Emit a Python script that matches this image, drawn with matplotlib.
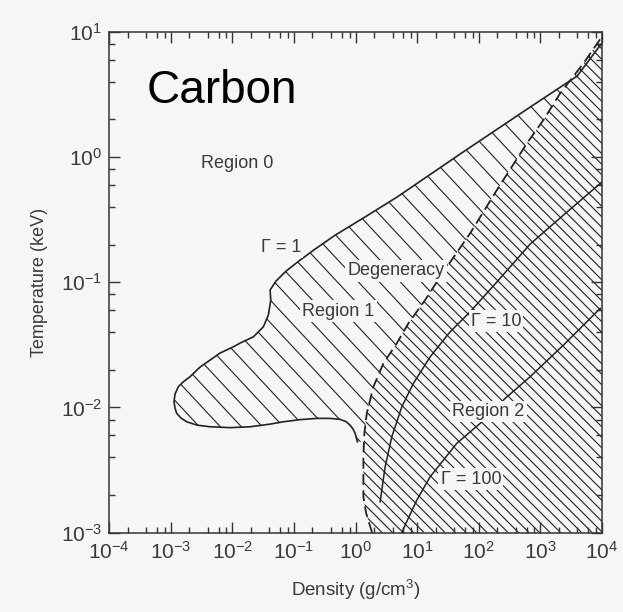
import numpy as np
import matplotlib
matplotlib.use("Agg")
import matplotlib.pyplot as plt
from matplotlib.patches import Polygon
from matplotlib.collections import LineCollection
from matplotlib.ticker import LogLocator, NullFormatter

plt.rcParams["font.family"] = ["Liberation Sans", "DejaVu Sans"]
plt.rcParams["mathtext.fontset"] = "custom"
plt.rcParams["mathtext.rm"] = "Liberation Sans"
plt.rcParams["mathtext.it"] = "Liberation Sans:italic"
plt.rcParams["mathtext.bf"] = "Liberation Sans:bold"

# ---- boundary curves, as log10 of density (g/cm^3) and temperature (keV) ----
# Gamma = 1 line: from the high-density corner down and around the
# low-density lobe of Region 1
gamma1_logrho = [3.987, 3.597, 2.834, 1.747, 0.675, 0.156, -0.331, -0.656,
                 -0.899, -1.127, -1.289, -1.386, -1.375, -1.414, -1.495,
                 -1.657, -1.873, -1.982, -2.198, -2.360, -2.523, -2.685,
                 -2.799, -2.875, -2.929, -2.945, -2.929, -2.901, -2.831,
                 -2.739, -2.571, -2.360, -2.036, -1.711, -1.386, -1.170,
                 -0.899, -0.628, -0.412, -0.250, -0.153, -0.088, -0.039,
                 -0.006, 0.031]
gamma1_logT = [0.904, 0.648, 0.400, 0.041, -0.319, -0.478, -0.624, -0.735,
               -0.823, -0.911, -0.990, -1.062, -1.142, -1.262, -1.356,
               -1.436, -1.486, -1.516, -1.566, -1.622, -1.678, -1.755,
               -1.798, -1.835, -1.894, -1.955, -2.006, -2.048, -2.086,
               -2.115, -2.142, -2.155, -2.162, -2.155, -2.134, -2.115,
               -2.098, -2.088, -2.088, -2.096, -2.114, -2.142, -2.174,
               -2.208, -2.275]

# degeneracy boundary (dashed), from the bottom axis upward
degen_logrho = [0.269, 0.172, 0.128, 0.128, 0.128, 0.144, 0.183, 0.291,
                0.453, 0.670, 0.859, 1.130, 1.373, 1.860, 2.294, 2.781,
                3.050, 3.321, 3.700, 3.998]
degen_logT = [-3.0, -2.845, -2.715, -2.581, -2.395, -2.208, -2.048, -1.835,
              -1.648, -1.488, -1.328, -1.142, -0.956, -0.609, -0.263, 0.110,
              0.297, 0.510, 0.750, 0.962]

# Gamma = 10 line
gamma10_logrho = [0.399, 0.481, 0.589, 0.752, 0.940, 1.211, 1.536, 1.860,
                  2.294, 2.834, 3.375, 3.998]
gamma10_logT = [-2.755, -2.475, -2.235, -1.995, -1.808, -1.596, -1.396,
                -1.236, -0.998, -0.695, -0.463, -0.199]

# Gamma = 100 line
gamma100_logrho = [0.756, 0.805, 0.995, 1.211, 1.427, 1.644, 2.023, 2.429,
                   2.834, 3.375, 3.971]
gamma100_logT = [-3.0, -2.941, -2.741, -2.555, -2.421, -2.287, -2.128,
                 -1.928, -1.755, -1.502, -1.209]

# ---- region / curve labels ----
labels = ["Region 0", "\u0393 = 1", "Degeneracy", "Region 1", "\u0393 = 10",
          "Region 2", "\u0393 = 100"]
label_logrho = [-1.914, -1.208, 0.656, -0.278, 2.28, 2.157, 1.873]
label_logT = [-0.05, -0.72, -0.909, -1.23, -1.31, -2.035, -2.573]

BG = "#f6f6f6"
INK = "#222222"
TXT = "#3a3a3a"

gamma1_rho, gamma1_T = 10 ** np.array(gamma1_logrho), 10 ** np.array(gamma1_logT)
degen_rho, degen_T = 10 ** np.array(degen_logrho), 10 ** np.array(degen_logT)
gamma10_rho, gamma10_T = 10 ** np.array(gamma10_logrho), 10 ** np.array(gamma10_logT)
gamma100_rho, gamma100_T = 10 ** np.array(gamma100_logrho), 10 ** np.array(gamma100_logT)

fig = plt.figure(figsize=(6.23, 6.12), dpi=100)
fig.patch.set_facecolor(BG)
ax = fig.add_axes([109 / 623, 1 - 532.5 / 612, 493 / 623, 500.5 / 612])
ax.set_facecolor(BG)
ax.set_xscale("log")
ax.set_yscale("log")
ax.set_xlim(1e-4, 1e4)
ax.set_ylim(1e-3, 1e1)

W_PX = 493.0
H_PX = 500.5


def hatch(ax, rho, T, spacing_px, angle_deg, lw, z=1):
    """Fill a region bounded by (rho, T) with parallel lines running
    from upper left to lower right."""
    poly = Polygon(np.column_stack([rho, T]), closed=True,
                   facecolor="none", edgecolor="none")
    ax.add_patch(poly)
    t = np.tan(np.radians(angle_deg))
    step = spacing_px * t
    cs = np.arange(0, H_PX + W_PX * t + step, step)
    segs = []
    for c in cs:
        x0, y0 = -10.0, c + 10.0 * t
        x1 = W_PX + 10.0
        y1 = c - x1 * t
        segs.append([(x0 / W_PX, y0 / H_PX), (x1 / W_PX, y1 / H_PX)])
    lc = LineCollection(segs, colors=INK, linewidths=lw,
                        transform=ax.transAxes, zorder=z)
    lc.set_clip_path(poly)
    ax.add_collection(lc)


# Region 1: between the Gamma = 1 line and the degeneracy line
r1_rho = np.concatenate([gamma1_rho, [10 ** 0.135], degen_rho[6:]])
r1_T = np.concatenate([gamma1_T, [gamma1_T[-1]], degen_T[6:]])
hatch(ax, r1_rho, r1_T, 21.0, 47, 0.8)

# Region 2: right of the degeneracy line
r2_rho = np.concatenate([degen_rho, [1.0e4, 1.0e4]])
r2_T = np.concatenate([degen_T, [10.0, 1e-3]])
hatch(ax, r2_rho, r2_T, 10.5, 45, 0.8)

# boundary curves
ax.plot(gamma1_rho, gamma1_T, color=INK, lw=1.2, zorder=3,
        solid_joinstyle="round")
ax.plot(degen_rho, degen_T, color=INK, lw=1.3, ls=(0, (6, 3)), zorder=3)
ax.plot(gamma10_rho, gamma10_T, color=INK, lw=1.1, zorder=3,
        solid_joinstyle="round")
ax.plot(gamma100_rho, gamma100_T, color=INK, lw=1.1, zorder=3,
        solid_joinstyle="round")

for s, lx, ly in zip(labels, label_logrho, label_logT):
    ax.text(10 ** lx, 10 ** ly, s, fontsize=13, color=TXT, ha="center",
            va="center", zorder=5,
            bbox=dict(boxstyle="square,pad=0.12", fc=BG, ec="none"))

ax.text(10 ** -3.39, 10 ** 0.53, "Carbon", fontsize=33, color="black",
        ha="left", va="center", zorder=5)

# axes styling
for sp in ax.spines.values():
    sp.set_color("#333333")
    sp.set_linewidth(1.1)
ax.xaxis.set_major_locator(LogLocator(base=10, numticks=20))
ax.yaxis.set_major_locator(LogLocator(base=10, numticks=20))
ax.xaxis.set_minor_locator(LogLocator(base=10, subs=(2, 4, 6, 8), numticks=100))
ax.yaxis.set_minor_locator(LogLocator(base=10, subs=(2, 4, 6, 8), numticks=100))
ax.xaxis.set_minor_formatter(NullFormatter())
ax.yaxis.set_minor_formatter(NullFormatter())
ax.tick_params(which="both", direction="in", top=True, right=True,
               color="#333333", labelcolor=TXT, labelsize=15)
ax.tick_params(which="major", length=8, width=1.0)
ax.tick_params(which="minor", length=4, width=1.0)
ax.tick_params(axis="x", pad=6)
ax.tick_params(axis="y", pad=5)

ax.set_xlabel("Density (g/cm$^3$)", fontsize=13.5, color=TXT, labelpad=11)
ax.set_ylabel("Temperature (keV)", fontsize=13, color=TXT, labelpad=9)

fig.savefig("out.png", dpi=100, facecolor=BG)
